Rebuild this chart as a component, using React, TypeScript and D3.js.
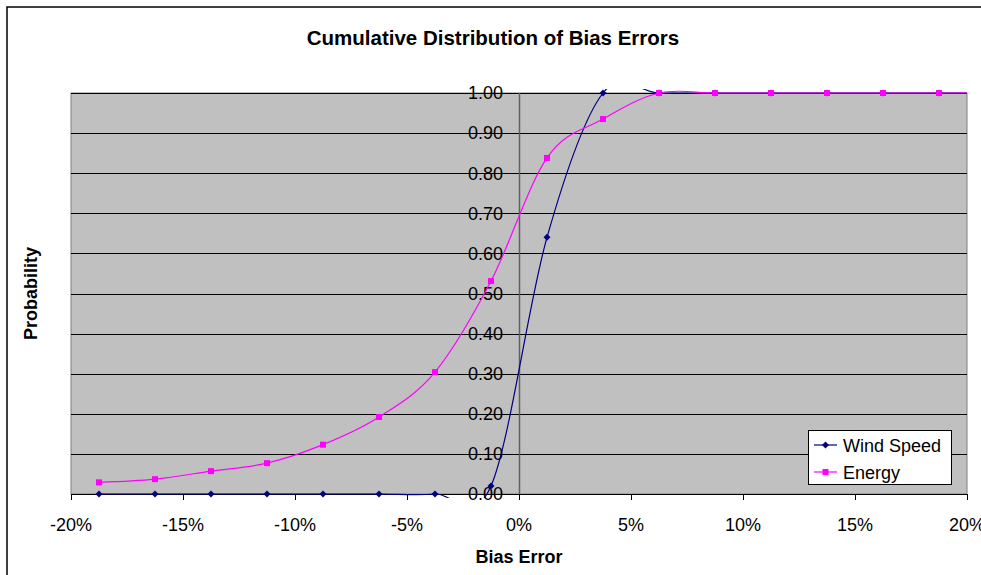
import React from "react";
import * as d3 from "d3";

const binCenters = [-0.1875, -0.1625, -0.1375, -0.1125, -0.0875, -0.0625, -0.0375, -0.0125, 0.0125, 0.0375, 0.0625, 0.0875, 0.1125, 0.1375, 0.1625, 0.1875, 0.2125];
const windSpeed = [0, 0, 0, 0, 0, 0, 0, 0.02, 0.64, 1, 1, 1, 1, 1, 1, 1, 1];
const energy = [0.029, 0.037, 0.057, 0.077, 0.123, 0.192, 0.304, 0.531, 0.838, 0.935, 1, 1, 1, 1, 1, 1, 1];
const xTicks = [-0.2, -0.15, -0.1, -0.05, 0, 0.05, 0.1, 0.15, 0.2];
const yTicks = [0, 0.1, 0.2, 0.3, 0.4, 0.5, 0.6, 0.7, 0.8, 0.9, 1.0];
const seriesNames = ["Wind Speed", "Energy"];

const W = 981, H = 575;
const PL = 71, PR = 967, PT = 93, PB = 494;
const FONT = "'Liberation Sans', Arial, sans-serif";

export default function App() {
  const x = d3.scaleLinear().domain([-0.2, 0.2]).range([PL, PR]);
  const y = d3.scaleLinear().domain([0, 1]).range([PB, PT]);
  const line = d3.line<[number, number]>()
    .x(d => x(d[0]))
    .y(d => y(d[1]))
    .curve(d3.curveCatmullRom.alpha(0));
  const windPts: [number, number][] = binCenters.map((c, i) => [c, windSpeed[i]]);
  const energyPts: [number, number][] = binCenters.map((c, i) => [c, energy[i]]);
  const inside = (p: [number, number]) => p[0] >= -0.2 && p[0] <= 0.2;
  const windColor = "#000080";
  const energyColor = "#FF00FF";
  const diamond = (cx: number, cy: number, r = 3.5) =>
    `M${cx},${cy - r}L${cx + r},${cy}L${cx},${cy + r}L${cx - r},${cy}Z`;
  const fmtPct = (t: number) => `${Math.round(t * 100)}%`;
  const x0 = x(0);

  return (
    <svg width={W} height={H} style={{ position: "absolute", left: 0, top: 0 }} fontFamily={FONT}>
      <defs>
        <clipPath id="plotclip">
          <rect x={PL} y={PT - 4} width={PR - PL} height={PB - PT + 8} />
        </clipPath>
      </defs>
      <rect x={0} y={0} width={W} height={H} fill="#fff" />
      <rect x={7} y={7} width={W + 20} height={H + 20} fill="#fff" stroke="#000" strokeWidth={1.5} />
      <text x={493} y={45} textAnchor="middle" fontSize={20.5} fontWeight="bold">Cumulative Distribution of Bias Errors</text>

      <rect x={PL} y={PT} width={PR - PL} height={PB - PT} fill="#C0C0C0" stroke="#808080" strokeWidth={1} />
      {yTicks.filter(t => t > 0).map(t => (
        <line key={"g" + t} x1={PL} x2={PR} y1={Math.round(y(t)) + 0.5} y2={Math.round(y(t)) + 0.5} stroke="#000" strokeWidth={1} />
      ))}
      {/* x axis */}
      <line x1={PL} x2={PR} y1={PB + 0.5} y2={PB + 0.5} stroke="#000" strokeWidth={1} />
      {xTicks.map(t => (
        <g key={"xt" + t}>
          <line x1={Math.round(x(t)) + 0.5} x2={Math.round(x(t)) + 0.5} y1={PB} y2={PB + 6} stroke="#000" />
          <text x={x(t)} y={531} textAnchor="middle" fontSize={18}>{fmtPct(t)}</text>
        </g>
      ))}
      {/* y axis at x=0 */}
      <line x1={Math.round(x0) + 0.5} x2={Math.round(x0) + 0.5} y1={PT} y2={PB} stroke="#606060" strokeWidth={1.5} />
      {yTicks.map(t => (
        <g key={"yt" + t}>
          <line x1={x0 - 5} x2={x0} y1={Math.round(y(t)) + 0.5} y2={Math.round(y(t)) + 0.5} stroke="#000" />
          <text x={503} y={y(t)} dy="0.35em" textAnchor="end" fontSize={18}>{t.toFixed(2)}</text>
        </g>
      ))}

      <g clipPath="url(#plotclip)">
        <path d={line(windPts) || ""} fill="none" stroke={windColor} strokeWidth={1.2} />
        <path d={line(energyPts) || ""} fill="none" stroke={energyColor} strokeWidth={1.2} />
      </g>
      {windPts.filter(inside).map((p, i) => (
        <path key={"wm" + i} d={diamond(x(p[0]), y(p[1]))} fill={windColor} />
      ))}
      {energyPts.filter(inside).map((p, i) => (
        <rect key={"em" + i} x={x(p[0]) - 3} y={y(p[1]) - 3} width={6} height={6} fill={energyColor} />
      ))}

      <text x={0} y={0} transform={`translate(37,${(PT + PB) / 2}) rotate(-90)`} textAnchor="middle" fontSize={18} fontWeight="bold">Probability</text>
      <text x={x0} y={563} textAnchor="middle" fontSize={18} fontWeight="bold">Bias Error</text>

      {/* legend */}
      <rect x={808.5} y={430.5} width={143} height={54} fill="#fff" stroke="#000" strokeWidth={1} />
      <line x1={814} x2={837} y1={445} y2={445} stroke={windColor} strokeWidth={1.2} />
      <path d={diamond(825.5, 445)} fill={windColor} />
      <text x={843} y={451.5} fontSize={18}>{seriesNames[0]}</text>
      <line x1={814} x2={837} y1={472} y2={472} stroke={energyColor} strokeWidth={1.2} />
      <rect x={822.5} y={469} width={6} height={6} fill={energyColor} />
      <text x={843} y={478.5} fontSize={18}>{seriesNames[1]}</text>
    </svg>
  );
}
